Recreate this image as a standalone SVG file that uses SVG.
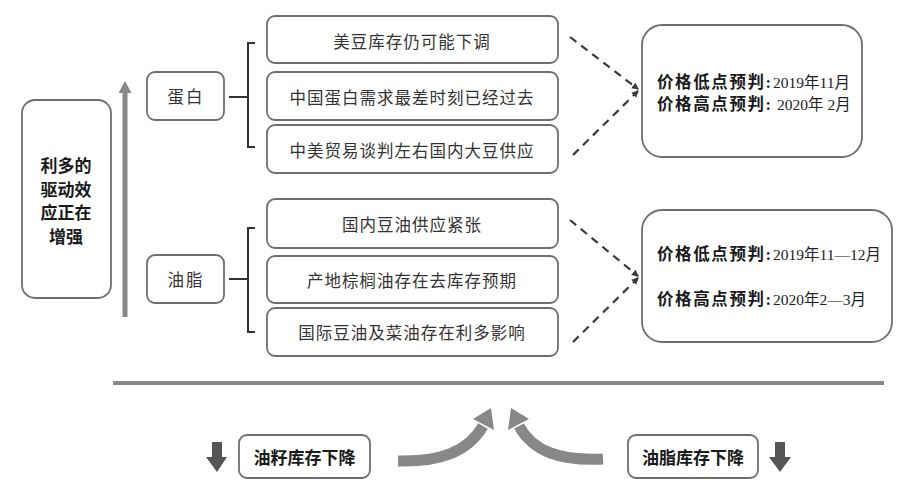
<svg xmlns="http://www.w3.org/2000/svg" width="900" height="497" viewBox="0 0 900 497">
<defs>
<style>
.box{fill:#fff;stroke:#6f6f6f;stroke-width:1.8}
.t{font-family:"Liberation Serif","Noto Sans CJK SC",serif;font-size:16.5px;fill:#333;text-anchor:middle;dominant-baseline:central;letter-spacing:1px}
.b{font-family:"Liberation Serif","Noto Sans CJK SC",serif;font-size:16.5px;font-weight:bold;fill:#1a1a1a;dominant-baseline:central}
.pb{letter-spacing:1.6px}
.num{font-family:"Liberation Serif","Noto Sans CJK SC",serif;font-size:15.5px;font-weight:normal;fill:#222;letter-spacing:0}
.br{fill:none;stroke:#333;stroke-width:2}
.dash{fill:none;stroke:#3a3a3a;stroke-width:2.2;stroke-dasharray:8 6}
.curve{fill:none;stroke:#888;stroke-width:11}
.gray{fill:#888}
.dark{fill:#555}
</style>
<marker id="ah" markerWidth="8" markerHeight="8" refX="6" refY="4" orient="auto" markerUnits="userSpaceOnUse">
<path d="M0,0.5 L7,4 L0,7.5 Z" fill="#3a3a3a"/>
</marker>
</defs>

<g id="left-box">
<rect class="box" x="22" y="100" width="89" height="198" rx="13"/>
<text class="b" x="66" y="166" text-anchor="middle" style="font-size:17px">利多的</text>
<text class="b" x="66" y="190" text-anchor="middle" style="font-size:17px">驱动效</text>
<text class="b" x="66" y="213" text-anchor="middle" style="font-size:17px">应正在</text>
<text class="b" x="66" y="237" text-anchor="middle" style="font-size:17px">增强</text>
</g>

<g id="up-arrow">
<rect class="gray" x="122.5" y="92" width="5" height="225"/>
<path class="gray" d="M118.5,93 L125,81 L131.5,93 Z"/>
</g>

<g id="protein">
<rect class="box" x="147" y="72" width="77" height="48" rx="8"/>
<text class="t" x="186" y="97" style="letter-spacing:2px">蛋白</text>
</g>
<g id="oil">
<rect class="box" x="147" y="255" width="77" height="48" rx="8"/>
<text class="t" x="186" y="280" style="letter-spacing:2px">油脂</text>
</g>

<g id="p1"><rect class="box" x="267" y="16" width="291" height="47" rx="8"/><text class="t" x="412" y="42">美豆库存仍可能下调</text></g>
<g id="p2"><rect class="box" x="267" y="72" width="291" height="48" rx="8"/><text class="t" x="412" y="98">中国蛋白需求最差时刻已经过去</text></g>
<g id="p3"><rect class="box" x="267" y="125" width="291" height="48" rx="8"/><text class="t" x="412" y="151">中美贸易谈判左右国内大豆供应</text></g>

<g id="o1"><rect class="box" x="267" y="199" width="291" height="49" rx="8"/><text class="t" x="412" y="225">国内豆油供应紧张</text></g>
<g id="o2"><rect class="box" x="267" y="256" width="291" height="47" rx="8"/><text class="t" x="412" y="281">产地棕榈油存在去库存预期</text></g>
<g id="o3"><rect class="box" x="267" y="308" width="291" height="48" rx="8"/><text class="t" x="412" y="333">国际豆油及菜油存在利多影响</text></g>

<g id="r1">
<rect class="box" x="642" y="25" width="220" height="132" rx="20"/>
<text class="b pb" x="657" y="82">价格低点预判:<tspan class="num" x="773">2019年11月</tspan></text>
<text class="b pb" x="657" y="104">价格高点预判:<tspan class="num" x="777">2020年 2月</tspan></text>
</g>
<g id="r2">
<rect class="box" x="642" y="210" width="250" height="132" rx="20"/>
<text class="b pb" x="657" y="254">价格低点预判:<tspan class="num" x="773">2019年11—12月</tspan></text>
<text class="b pb" x="657" y="299">价格高点预判:<tspan class="num" x="773">2020年2—3月</tspan></text>
</g>

<g id="bottom-left">
<rect class="box" x="239" y="435" width="131" height="43" rx="8"/>
<text class="b" x="304.5" y="458" text-anchor="middle" style="font-size:17px">油籽库存下降</text>
</g>
<g id="bottom-right">
<rect class="box" x="628" y="435" width="130" height="43" rx="8"/>
<text class="b" x="693" y="458" text-anchor="middle" style="font-size:17px">油脂库存下降</text>
</g>

<g id="connectors">
<path class="br" d="M229,97 H248 M255,43 H248 V147 H255"/>
<path class="br" d="M229,279 H248 M255,228 H248 V332 H255"/>
<path class="dash" d="M570,37 L638,89" marker-end="url(#ah)"/>
<path class="dash" d="M573,155 L638,91" marker-end="url(#ah)"/>
<path class="dash" d="M570,220 L638,276" marker-end="url(#ah)"/>
<path class="dash" d="M573,342 L638,278" marker-end="url(#ah)"/>
<line x1="113" y1="383" x2="884" y2="383" stroke="#888" stroke-width="4"/>
<path class="curve" d="M398,461 C440,462 468,452 483,426"/>
<path class="gray" d="M491,408 L473,419 L494,430 Z"/>
<path class="curve" d="M603,459 C561,461 533,452 519,426"/>
<path class="gray" d="M511,408 L529,419 L508,430 Z"/>
<path class="dark" d="M212,442 H222 V457 H227 L217,472 L206,457 H212 Z"/>
<path class="dark" d="M775,442 H785 V457 H791 L780,472 L769,457 H775 Z"/>
</g>
</svg>
